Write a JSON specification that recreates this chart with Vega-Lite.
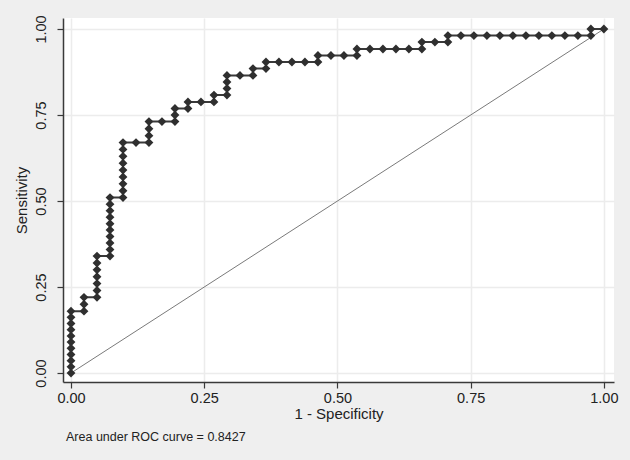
{
  "$schema": "https://vega.github.io/schema/vega-lite/v6.json",
  "width": 551,
  "height": 364,
  "autosize": {"type": "none"},
  "padding": {"left": 63, "top": 18, "right": 16, "bottom": 78},
  "background": "#efefef",
  "config": {
    "view": {"fill": "white", "stroke": null},
    "font": "Liberation Sans",
    "axis": {
      "domainColor": "#3a3a3a",
      "domainWidth": 1.5,
      "tickColor": "#3a3a3a",
      "tickWidth": 1.2,
      "tickSize": 6,
      "gridColor": "#ececec",
      "gridWidth": 1.5,
      "labelColor": "#222222",
      "titleColor": "#222222",
      "labelFont": "Liberation Sans",
      "titleFont": "Liberation Sans",
      "labelFontSize": 14.5,
      "titleFontSize": 15,
      "titleFontWeight": "normal"
    }
  },
  "title": {
    "text": "Area under ROC curve = 0.8427",
    "orient": "bottom",
    "anchor": "start",
    "frame": "group",
    "dx": 3,
    "offset": 9,
    "fontSize": 12.5,
    "fontWeight": "normal",
    "font": "Liberation Sans",
    "color": "#222222"
  },
  "datasets": {
    "roc": [
      {"fpr": 0, "tpr": 0}, {"fpr": 0, "tpr": 0.018}, {"fpr": 0, "tpr": 0.036}, {"fpr": 0, "tpr": 0.054},
      {"fpr": 0, "tpr": 0.072}, {"fpr": 0, "tpr": 0.09}, {"fpr": 0, "tpr": 0.108}, {"fpr": 0, "tpr": 0.126},
      {"fpr": 0, "tpr": 0.144}, {"fpr": 0, "tpr": 0.162}, {"fpr": 0, "tpr": 0.18},
      {"fpr": 0.0244, "tpr": 0.18}, {"fpr": 0.0244, "tpr": 0.2}, {"fpr": 0.0244, "tpr": 0.22},
      {"fpr": 0.0488, "tpr": 0.22}, {"fpr": 0.0488, "tpr": 0.24}, {"fpr": 0.0488, "tpr": 0.26},
      {"fpr": 0.0488, "tpr": 0.28}, {"fpr": 0.0488, "tpr": 0.3}, {"fpr": 0.0488, "tpr": 0.32}, {"fpr": 0.0488, "tpr": 0.34},
      {"fpr": 0.0732, "tpr": 0.34}, {"fpr": 0.0732, "tpr": 0.359}, {"fpr": 0.0732, "tpr": 0.378}, {"fpr": 0.0732, "tpr": 0.397},
      {"fpr": 0.0732, "tpr": 0.416}, {"fpr": 0.0732, "tpr": 0.434}, {"fpr": 0.0732, "tpr": 0.453}, {"fpr": 0.0732, "tpr": 0.472},
      {"fpr": 0.0732, "tpr": 0.491}, {"fpr": 0.0732, "tpr": 0.51},
      {"fpr": 0.0976, "tpr": 0.51}, {"fpr": 0.0976, "tpr": 0.53}, {"fpr": 0.0976, "tpr": 0.55}, {"fpr": 0.0976, "tpr": 0.57},
      {"fpr": 0.0976, "tpr": 0.59}, {"fpr": 0.0976, "tpr": 0.61}, {"fpr": 0.0976, "tpr": 0.63}, {"fpr": 0.0976, "tpr": 0.65},
      {"fpr": 0.0976, "tpr": 0.67},
      {"fpr": 0.122, "tpr": 0.67},
      {"fpr": 0.1463, "tpr": 0.67}, {"fpr": 0.1463, "tpr": 0.69}, {"fpr": 0.1463, "tpr": 0.71}, {"fpr": 0.1463, "tpr": 0.731},
      {"fpr": 0.1707, "tpr": 0.731},
      {"fpr": 0.1951, "tpr": 0.731}, {"fpr": 0.1951, "tpr": 0.75}, {"fpr": 0.1951, "tpr": 0.769},
      {"fpr": 0.2195, "tpr": 0.769}, {"fpr": 0.2195, "tpr": 0.788},
      {"fpr": 0.2439, "tpr": 0.788},
      {"fpr": 0.2683, "tpr": 0.788}, {"fpr": 0.2683, "tpr": 0.808},
      {"fpr": 0.2927, "tpr": 0.808}, {"fpr": 0.2927, "tpr": 0.827}, {"fpr": 0.2927, "tpr": 0.846}, {"fpr": 0.2927, "tpr": 0.865},
      {"fpr": 0.3171, "tpr": 0.865},
      {"fpr": 0.3415, "tpr": 0.865}, {"fpr": 0.3415, "tpr": 0.885},
      {"fpr": 0.3659, "tpr": 0.885}, {"fpr": 0.3659, "tpr": 0.904},
      {"fpr": 0.3902, "tpr": 0.904}, {"fpr": 0.4146, "tpr": 0.904}, {"fpr": 0.439, "tpr": 0.904},
      {"fpr": 0.4634, "tpr": 0.904}, {"fpr": 0.4634, "tpr": 0.923},
      {"fpr": 0.4878, "tpr": 0.923}, {"fpr": 0.5122, "tpr": 0.923},
      {"fpr": 0.5366, "tpr": 0.923}, {"fpr": 0.5366, "tpr": 0.942},
      {"fpr": 0.561, "tpr": 0.942}, {"fpr": 0.5854, "tpr": 0.942}, {"fpr": 0.6098, "tpr": 0.942}, {"fpr": 0.6341, "tpr": 0.942},
      {"fpr": 0.6585, "tpr": 0.942}, {"fpr": 0.6585, "tpr": 0.962},
      {"fpr": 0.6829, "tpr": 0.962},
      {"fpr": 0.7073, "tpr": 0.962}, {"fpr": 0.7073, "tpr": 0.981},
      {"fpr": 0.7317, "tpr": 0.981}, {"fpr": 0.7561, "tpr": 0.981}, {"fpr": 0.7805, "tpr": 0.981}, {"fpr": 0.8049, "tpr": 0.981},
      {"fpr": 0.8293, "tpr": 0.981}, {"fpr": 0.8537, "tpr": 0.981}, {"fpr": 0.878, "tpr": 0.981}, {"fpr": 0.9024, "tpr": 0.981},
      {"fpr": 0.9268, "tpr": 0.981}, {"fpr": 0.9512, "tpr": 0.981},
      {"fpr": 0.9756, "tpr": 0.981}, {"fpr": 0.9756, "tpr": 1},
      {"fpr": 1, "tpr": 1}
    ],
    "diag": [{"fpr": 0, "tpr": 0}, {"fpr": 1, "tpr": 1}]
  },
  "encoding": {
    "x": {
      "field": "fpr", "type": "quantitative",
      "scale": {"domain": [-0.015, 1.019], "nice": false, "zero": false},
      "axis": {
        "title": "1 - Specificity",
        "values": [0, 0.25, 0.5, 0.75, 1],
        "format": ".2f",
        "labelPadding": 3,
        "titlePadding": 2,
        "labelFlush": false
      }
    },
    "y": {
      "field": "tpr", "type": "quantitative",
      "scale": {"domain": [-0.026, 1.032], "nice": false, "zero": false},
      "axis": {
        "title": "Sensitivity",
        "values": [0, 0.25, 0.5, 0.75, 1],
        "format": ".2f",
        "labelAngle": -90,
        "labelAlign": "center",
        "labelBaseline": "bottom",
        "labelPadding": 9,
        "titlePadding": 4,
        "labelFlush": false
      }
    }
  },
  "layer": [
    {
      "data": {"name": "diag"},
      "mark": {"type": "line", "color": "#7a7a7a", "strokeWidth": 1}
    },
    {
      "data": {"name": "roc"},
      "mark": {"type": "line", "color": "#3a3a3a", "strokeWidth": 2},
      "encoding": {
        "order": [{"field": "fpr", "type": "quantitative"}, {"field": "tpr", "type": "quantitative"}]
      }
    },
    {
      "data": {"name": "roc"},
      "mark": {"type": "point", "shape": "diamond", "filled": true, "color": "#2f2f2f", "size": 78, "opacity": 1}
    }
  ]
}
